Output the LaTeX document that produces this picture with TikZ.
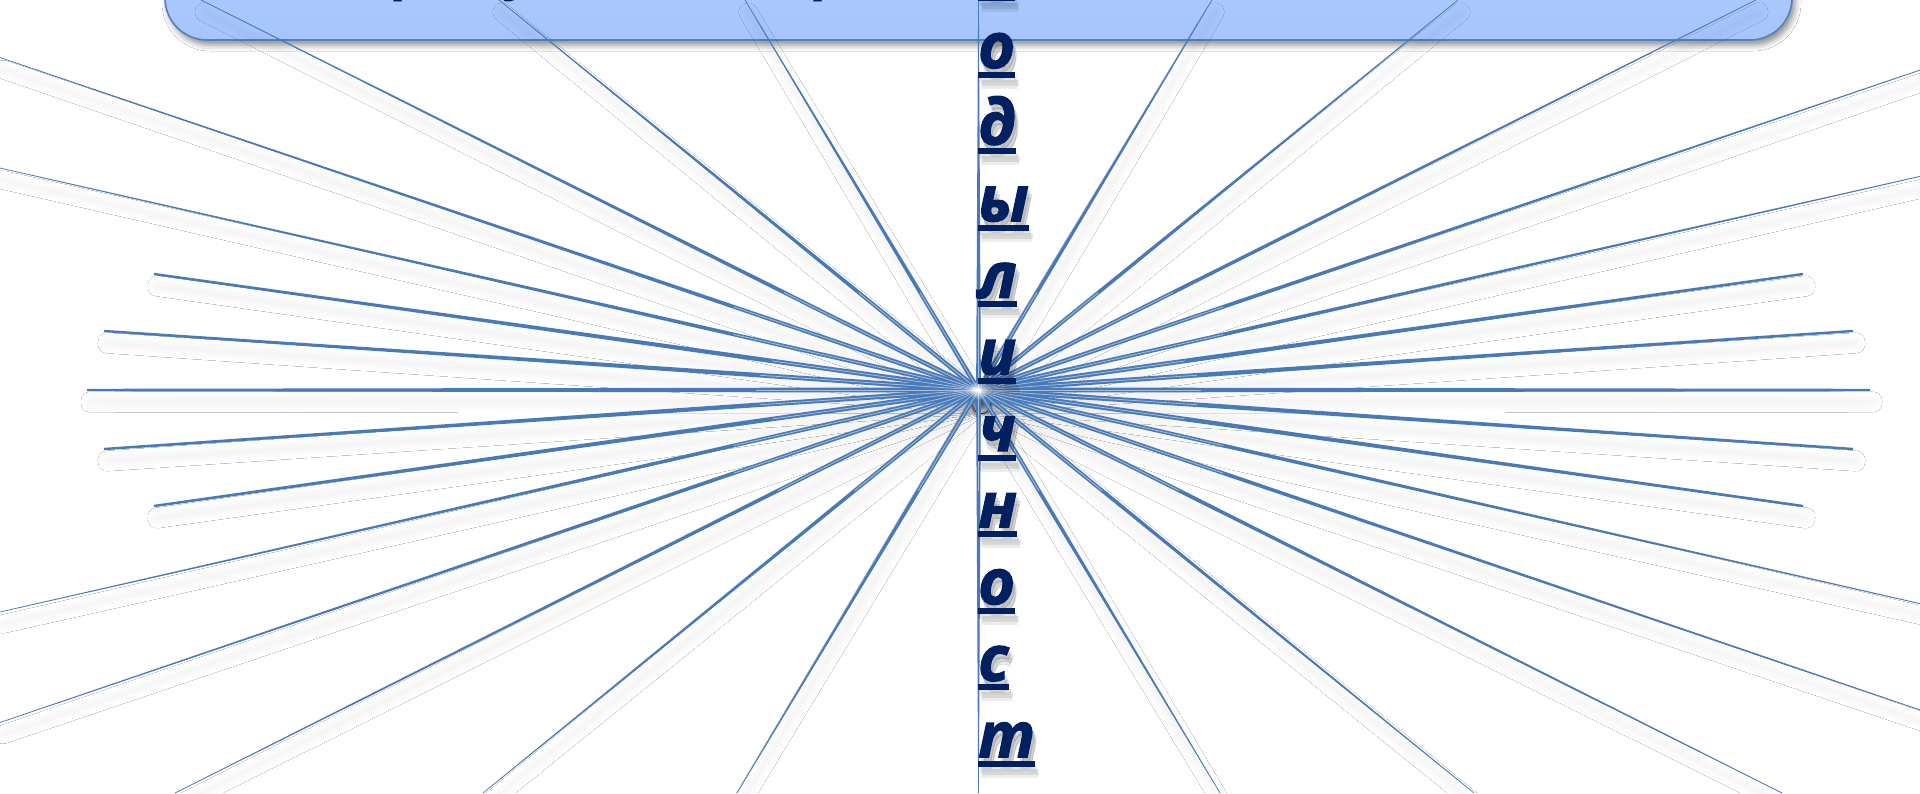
\documentclass[tikz,border=0pt]{standalone}
\usepackage{fontspec}
\newfontfamily\vfont{Open Sans}[BoldItalicFeatures={FakeBold=1.8}]
\usetikzlibrary{calc,fadings,shadows.blur}
\definecolor{rayblue}{RGB}{72,122,185}
\definecolor{navy}{RGB}{0,32,96}
\definecolor{boxfill}{RGB}{166,197,252}
\definecolor{boxline}{RGB}{79,129,189}
\tikzfading[name=fuzzyspot, inner color=transparent!0, outer color=transparent!100]
\newcommand\mywedge[4]{%
  \path[#1] ($(c)!#3!90:(#2)$) -- ($(#2)!#4!-90:(c)$) -- ($(#2)!#4!90:(c)$) -- ($(c)!#3!-90:(#2)$) -- cycle;}
\begin{document}
\begin{tikzpicture}[x=1pt,y=-1pt,
  titlebox/.style={draw=boxline, line width=1.6pt, top color=boxfill!85!white, bottom color=boxfill,
    rounded corners=42pt, minimum width=1627pt, minimum height=140pt, inner sep=0pt,
    blur shadow={shadow xshift=3pt, shadow yshift=-5pt, shadow blur radius=6pt, shadow opacity=45}},
  titleglyph/.style={font=\vfont\bfseries\fontsize{56pt}{60pt}\selectfont, text=navy, inner sep=0pt, anchor=base west},
  letter/.style={font=\vfont\bfseries\itshape\fontsize{63pt}{66pt}\selectfont, text=navy, inner sep=0pt, anchor=base west},
  rayshadow/.style={blur shadow={shadow xshift=3pt, shadow yshift=-12pt, shadow blur radius=9pt, shadow opacity=7, shadow blur steps=12}},
  rayfill/.style={fill=rayblue},
  raystripe/.style={draw=white, opacity=0.5, line width=0.8pt}]
\useasboundingbox (0,0) rectangle (1920,793);
\clip (0,0) rectangle (1920,793);
\fill[white] (0,0) rectangle (1920,793);

% title box (text above the picture edge, only descenders show)
\node[titlebox] (title) at (978.5,-30) {};
\node[titleglyph] (t1) at (389,-12) {р};
\node[titleglyph] (t2) at (502,-12) {у};
\node[titleglyph] (t3) at (809,-12) {р};

% rays
\coordinate (c) at (978.5,390);
\foreach \n/\x/\y in {
  h1/87/390, h2/104/331, h3/154/274, h4/104/449, h5/154/506,
  h6/1870/390, h7/1853/331, h8/1803/274, h9/1853/449, h10/1803/506,
  l1/0/57.5, l2/0/168, l3/201/0, l4/499/0, l5/745/0, l6/978.5/0,
  l7/1957/57.5, l8/1957/168, l9/1756/0, l10/1458/0, l11/1212/0,
  l12/0/722.5, l13/0/612, l14/175/793, l15/483/793, l16/737/793, l17/978.5/793,
  l18/1957/722.5, l19/1957/612, l20/1782/793, l21/1474/793, l22/1220/793}
  {\coordinate (\n) at (\x,\y);}

\foreach \n in {h1,h2,h3,h4,h5,h6,h7,h8,h9,h10} {\mywedge{rayshadow}{\n}{2.5pt}{1.2pt}}
\foreach \n in {l1,l2,l3,l4,l5,l7,l8,l9,l10,l11,l12,l13,l14,l15,l16,l18,l19,l20,l21,l22} {\mywedge{rayshadow}{\n}{2.5pt}{0.3pt}}

\foreach \n in {h1,h2,h3,h4,h5,h6,h7,h8,h9,h10} {\mywedge{rayfill}{\n}{2.6pt}{1.2pt}}
\foreach \n in {l1,l2,l3,l4,l5,l6,l7,l8,l9,l10,l11,l12,l13,l14,l15,l16,l17,l18,l19,l20,l21,l22} {\mywedge{rayfill}{\n}{2.4pt}{0.35pt}}

\foreach \n in {h1,h2,h3,h4,h5,h6,h7,h8,h9,h10,l1,l2,l3,l4,l5,l6,l7,l8,l9,l10,l11,l12,l13,l14,l15,l16,l17,l18,l19,l20,l21,l22}
  {\draw[raystripe] (c) -- ($(c)!0.25!(\n)$);}
\fill[white, path fading=fuzzyspot] (c) circle (10);

% vertical word
\foreach \ch [count=\i from 0] in {б,о,д,ы,л,и,ч,н,о,с,т} {
  \pgfmathsetmacro\b{-8.6+76.6*\i}
  \foreach \dx/\dy/\op [count=\k] in {2/5/0.10,4/8/0.09,3/11/0.07} {
    \node[letter, text=black, opacity=\op] (vs\i x\k) at (978+\dx,\b+\dy) {\ch};
    \fill[black, opacity=\op] (vs\i x\k.base west) ++(0,3.5) rectangle ($(vs\i x\k.base east)+(0,9.5)$);
  }
  \node[letter] (v\i) at (978,\b) {\ch};
  \fill[navy] (v\i.base west) ++(0,3.5) rectangle ($(v\i.base east)+(0,9.5)$);
}
\end{tikzpicture}
\end{document}
